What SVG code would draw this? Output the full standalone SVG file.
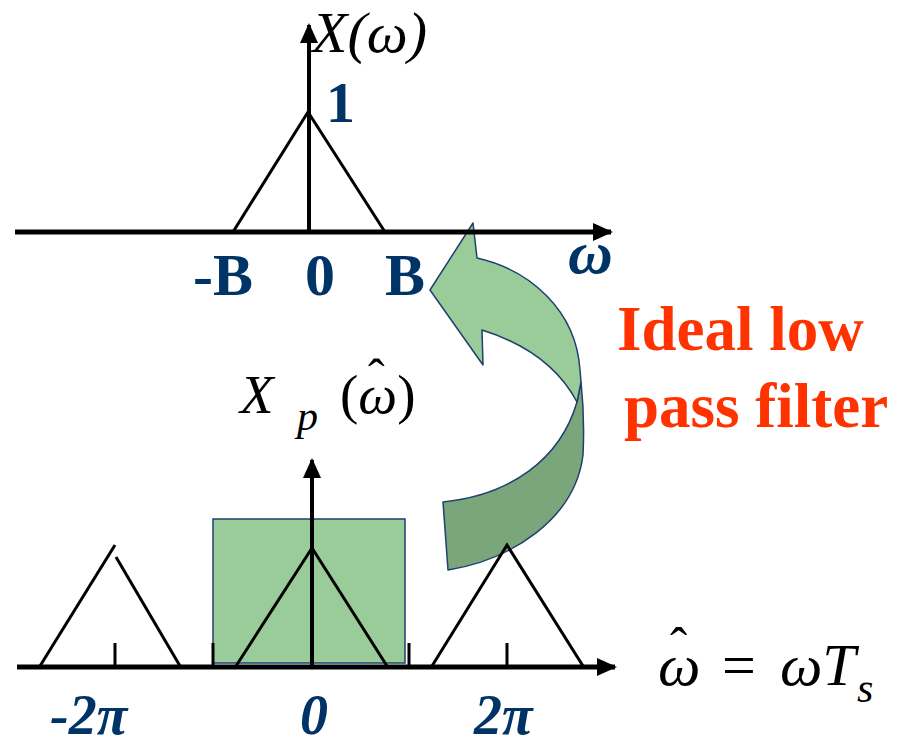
<svg xmlns="http://www.w3.org/2000/svg" width="902" height="745" viewBox="0 0 902 745">
<style>
.ax{stroke:#000;stroke-width:5;fill:none}
.vx{stroke:#000;stroke-width:4;fill:none}
.tri{stroke:#000;stroke-width:3;fill:none;stroke-linejoin:miter}
.tick{stroke:#000;stroke-width:3}
.blue{font-weight:bold;fill:#003366}
.bi{font-weight:bold;font-style:italic;fill:#003366}
.math{fill:#000}
.red{font-weight:bold;fill:#FF3300;font-size:63px}
.light{fill:#99CC99;stroke:#1F3F6F;stroke-width:1.5;stroke-linejoin:round}
.dark{fill:#7BA57B;stroke:#1F3F6F;stroke-width:1.5;stroke-linejoin:round}
</style>
<defs>
<marker id="ah" markerWidth="20" markerHeight="18" refX="18" refY="9" orient="auto" markerUnits="userSpaceOnUse">
<path d="M0,0 L20,9 L0,18 Z" fill="#000"/>
</marker>
</defs>

<g id="filter-box">
<rect x="213" y="519" width="192" height="144" fill="#99CC99" stroke="#1F3F6F" stroke-width="1.5"/>
</g>

<g id="curved-arrow">
<path class="dark" d="M577,402 L581,382 C584,410 584,435 583,455 C575,520 510,560 448,570 L443,502 C510,495 560,460 577,402 Z"/>
<path class="light" d="M430,290 L473,223 L477,258 C530,270 576,310 580,370 L581,382 L577,402 C560,370 530,345 482,330 L483,365 Z"/>
</g>

<g id="connectors">
<line class="ax" x1="15" y1="232" x2="611" y2="232" marker-end="url(#ah)"/>
<line class="vx" x1="309" y1="232" x2="309" y2="25" marker-end="url(#ah)"/>
<line class="ax" x1="17" y1="667" x2="615" y2="667" marker-end="url(#ah)"/>
<line class="vx" x1="312" y1="667" x2="312" y2="460" marker-end="url(#ah)"/>
</g>

<g id="top-spectrum">
<polyline class="tri" points="233,232 308,112 385,232"/>
</g>

<g id="bottom-spectrum">
<polyline class="tri" points="40,666 115,545"/>
<polyline class="tri" points="116,557 180,666"/>
<polyline class="tri" points="236,666 312,548 387,666"/>
<polyline class="tri" points="432,666 507,545 583,666"/>
<line class="tick" x1="115" y1="643" x2="115" y2="667"/>
<line class="tick" x1="213" y1="643" x2="213" y2="667"/>
<line class="tick" x1="409" y1="643" x2="409" y2="667"/>
<line class="tick" x1="507" y1="643" x2="507" y2="667"/>
</g>

<g id="top-labels" font-family="Liberation Serif, DejaVu Serif, serif">
<text class="math" x="312" y="52" font-size="58" font-style="italic">X(ω)</text>
<text class="blue" x="326" y="122" font-size="58">1</text>
<text class="blue" x="193" y="295" font-size="60">-B</text>
<text class="blue" x="305" y="295" font-size="60">0</text>
<text class="blue" x="385" y="295" font-size="60">B</text>
<text class="bi" x="568" y="273" font-size="62">ω</text>
</g>

<g id="bottom-labels" font-family="Liberation Serif, DejaVu Serif, serif">
<text class="math" x="240" y="413" font-size="55" font-style="italic">X</text>
<text class="math" x="297" y="430" font-size="42" font-style="italic">p</text>
<text class="math" x="340" y="413" font-size="55">(<tspan font-style="italic">ω</tspan>)</text>
<text class="math" x="368" y="394" font-size="50">ˆ</text>
<text class="math" x="658" y="685" font-size="60" font-style="italic">ω</text>
<text class="math" x="670" y="664" font-size="52">ˆ</text>
<text class="math" x="722" y="685" font-size="60">=</text>
<text class="math" x="780" y="685" font-size="60" font-style="italic">ωT</text>
<text class="math" x="857" y="702" font-size="42" font-style="italic">s</text>
<text class="bi" x="50" y="734" font-size="56">-2π</text>
<text class="bi" x="300" y="734" font-size="56">0</text>
<text class="bi" x="474" y="734" font-size="56">2π</text>
</g>

<g id="filter-label" font-family="Liberation Serif, DejaVu Serif, serif">
<text class="red" x="617" y="350">Ideal low</text>
<text class="red" x="624" y="427">pass filter</text>
</g>
</svg>
